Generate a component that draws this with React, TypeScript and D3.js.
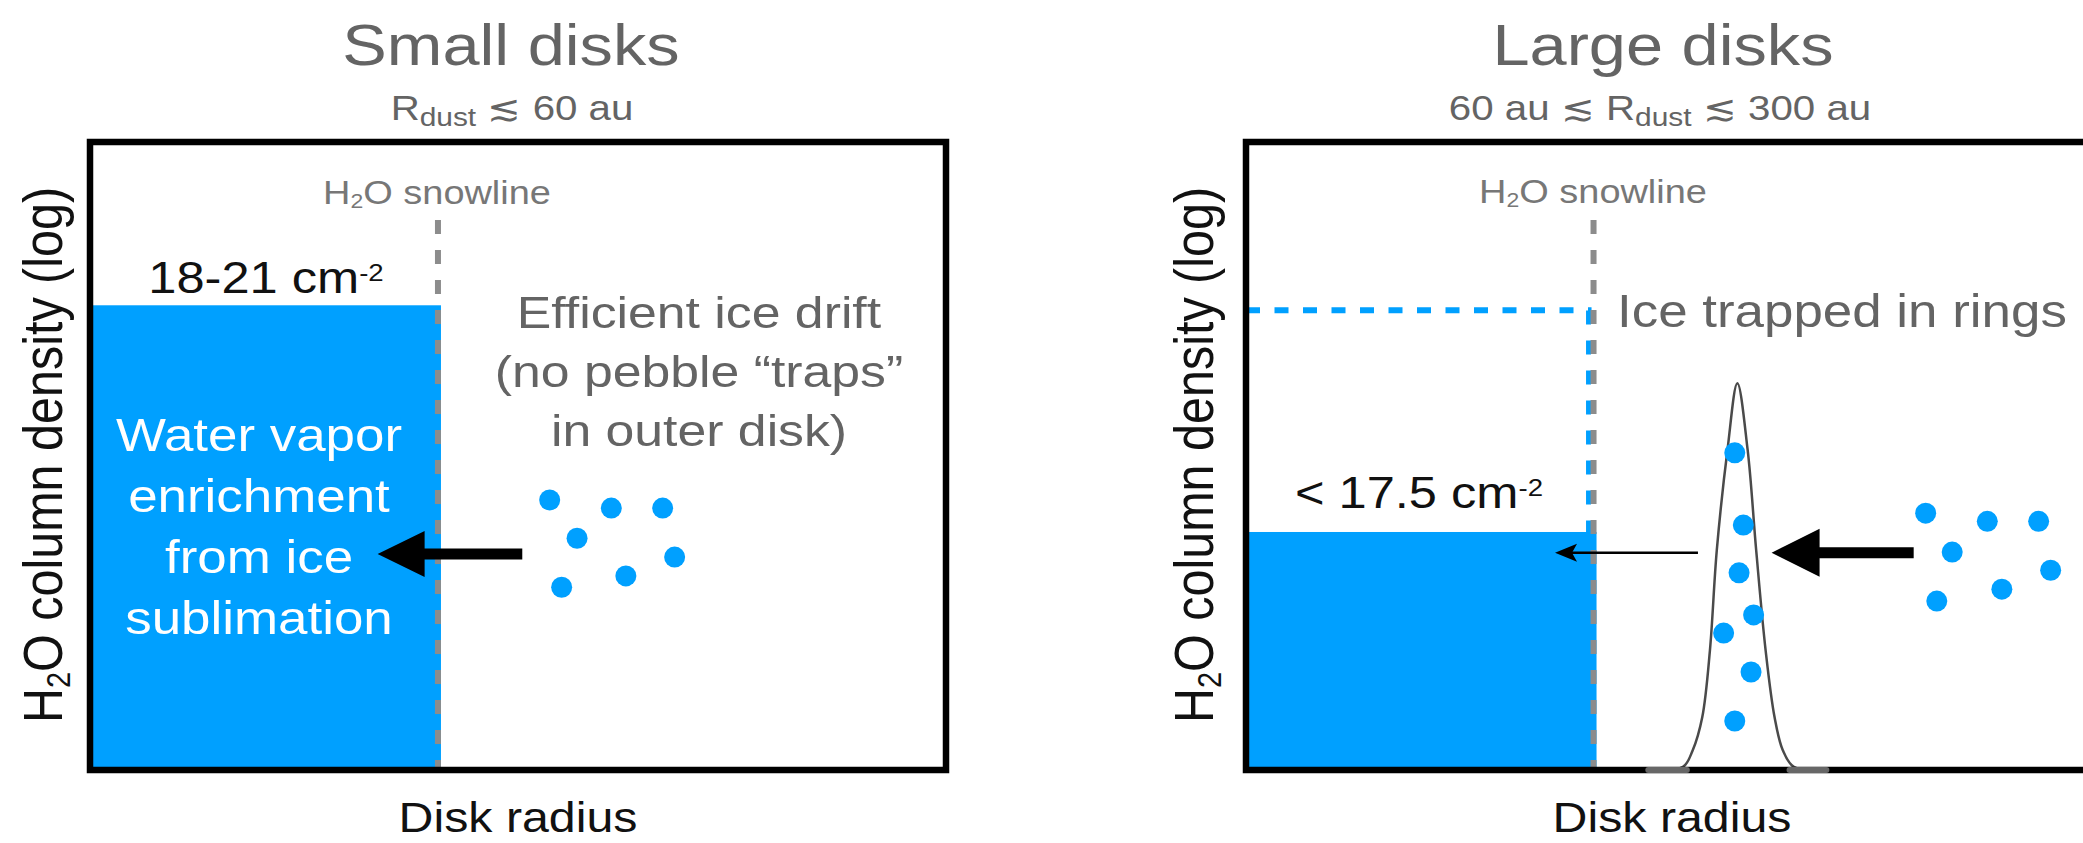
import React from 'react';
import * as d3 from 'd3';

const W = 2083;
const H = 843;
const SX = 1.15; // horizontal glyph stretch seen in the reference
const BLUE = '#00A0FF';
const DASH_GRAY = '#8C8C8C';
const TEXT_GRAY = '#646464';
const FONT = '"Liberation Sans", Arial, Helvetica, sans-serif';

// ---- layout of the two panels (pixel frame) ----
const panelLeft = [90, 1246];
const panelWidth = 856;
const panelTop = 142;
const panelBottom = 770;

// ---- data (x: disk radius, 0-100 across the box; y: log H2O column density, 0-100) ----
const panelTitles = ['Small disks', 'Large disks'];
const snowlineRadius = [40.65, 40.6];
const vaporLevel = [74.0, 37.9];
const ringTrapLevel = 73.2;

const driftDotsSmall: [number, number][] = [
  [53.7, 43.0], [60.9, 41.7], [66.9, 41.7], [56.9, 36.9], [68.3, 33.9], [62.6, 30.9], [55.1, 29.1],
];
const driftDotsLarge: [number, number][] = [
  [79.4, 40.9], [86.6, 39.6], [92.6, 39.6], [82.5, 34.7], [94.0, 31.8], [88.3, 28.8], [80.7, 26.9],
];
const ringDots: [number, number][] = [
  [57.1, 50.5], [58.1, 39.0], [57.6, 31.4], [59.3, 24.7], [55.8, 21.8], [59.0, 15.6], [57.1, 7.8],
];
const ringProfile: [number, number][] = [
  [47.2, 0], [51.05, 0.5], [52.2, 3.2], [53.3, 8.4], [54.2, 19.1], [55.0, 35.0], [56.25, 51.0],
  [57.4, 61.6], [58.6, 51.0], [59.6, 35.0], [60.7, 19.1], [61.75, 8.4], [62.7, 3.2], [64.0, 0.5], [67.6, 0],
];
// faint tails of the ring profile lying on the axis: [from, to]
const ringFeet: [number, number][] = [[47.0, 51.5], [63.5, 67.8]];
// arrows: [from radius, to radius, level]
const thickArrowSmall: [number, number, number] = [50.5, 33.6, 34.4];
const thinArrowLarge: [number, number, number] = [52.8, 36.1, 34.6];
const thickArrowLarge: [number, number, number] = [78.0, 61.4, 34.6];

const whiteLines = ['Water vapor', 'enrichment', 'from ice', 'sublimation'];
const grayLines = ['Efficient ice drift', '(no pebble \u201Ctraps\u201D', 'in outer disk)'];

function makeScales(i: number) {
  const x = d3.scaleLinear().domain([0, 100]).range([panelLeft[i], panelLeft[i] + panelWidth]);
  const y = d3.scaleLinear().domain([0, 100]).range([panelBottom, panelTop]);
  return { x, y };
}

function T(props: {
  x: number; y: number; size: number; fill?: string; anchor?: string; children: React.ReactNode;
}) {
  const { x, y, size, fill = '#111', anchor = 'middle', children } = props;
  return (
    <g transform={`translate(${x},${y}) scale(${SX},1)`}>
      <text textAnchor={anchor} fontSize={size} fill={fill} fontFamily={FONT}>
        {children}
      </text>
    </g>
  );
}

function thickArrow(x1: number, x2: number, y: number, shaft: number, headLen: number, headHalf: number) {
  const hb = x2 + headLen;
  return `M${x1},${y - shaft / 2} L${hb},${y - shaft / 2} L${hb},${y - headHalf} L${x2},${y} L${hb},${y + headHalf} L${hb},${y + shaft / 2} L${x1},${y + shaft / 2} Z`;
}

function YLabel({ x }: { x: number }) {
  return (
    <g transform={`translate(${x},455) scale(${SX},1) rotate(-90)`}>
      <text textAnchor="middle" fontSize={48.5} fill="#111" fontFamily={FONT}>
        H<tspan fontSize={29} dy={7}>2</tspan>
        <tspan dy={-7}>O column density (log)</tspan>
      </text>
    </g>
  );
}

function Snowline({ x }: { x: number }) {
  return (
    <line x1={x} x2={x} y1={220} y2={panelBottom} stroke={DASH_GRAY} strokeWidth={6} strokeDasharray="14 16" />
  );
}

export default function App() {
  const s0 = makeScales(0);
  const s1 = makeScales(1);
  const snow0 = s0.x(snowlineRadius[0]);
  const snow1 = s1.x(snowlineRadius[1]);
  const line = d3
    .line<[number, number]>()
    .x((d) => s1.x(d[0]))
    .y((d) => s1.y(d[1]))
    .curve(d3.curveCatmullRom.alpha(0.5));

  return (
    <svg
      width={W}
      height={H}
      viewBox={`0 0 ${W} ${H}`}
      style={{ position: 'absolute', left: 0, top: 0, display: 'block', background: '#fff' }}
    >
      <rect x={0} y={0} width={W} height={H} fill="#fff" />

      {/* ================= LEFT PANEL ================= */}
      <rect
        x={s0.x(0)}
        y={s0.y(vaporLevel[0])}
        width={snow0 + 3 - s0.x(0)}
        height={s0.y(0) - s0.y(vaporLevel[0])}
        fill={BLUE}
      />
      <Snowline x={snow0} />
      {driftDotsSmall.map((d, i) => (
        <circle key={i} cx={s0.x(d[0])} cy={s0.y(d[1])} r={10.5} fill={BLUE} />
      ))}
      <path
        d={thickArrow(s0.x(thickArrowSmall[0]), s0.x(thickArrowSmall[1]), s0.y(thickArrowSmall[2]), 11, 47, 23)}
        fill="#000"
      />
      <rect x={panelLeft[0]} y={panelTop} width={panelWidth} height={panelBottom - panelTop} fill="none" stroke="#000" strokeWidth={6.5} />

      <T x={511} y={65} size={58} fill={TEXT_GRAY}>{panelTitles[0]}</T>
      <T x={512} y={120} size={35} fill={TEXT_GRAY}>
        R<tspan fontSize={26} dy={6}>dust</tspan>
        <tspan dy={-6}> {'\u2272'} 60 au</tspan>
      </T>
      <T x={437} y={204} size={33} fill="#777">
        H<tspan fontSize={20} dy={4}>2</tspan>
        <tspan dy={-4}>O snowline</tspan>
      </T>
      <T x={266} y={293} size={44}>
        18-21 cm<tspan fontSize={24} dy={-12}>-2</tspan>
      </T>
      {whiteLines.map((t, i) => (
        <T key={t} x={259} y={451 + i * 61} size={46} fill="#fff">{t}</T>
      ))}
      {grayLines.map((t, i) => (
        <T key={t} x={699} y={328 + i * 59} size={45} fill={TEXT_GRAY}>{t}</T>
      ))}
      <T x={518} y={832} size={42}>Disk radius</T>
      <YLabel x={62} />

      {/* ================= RIGHT PANEL ================= */}
      <rect
        x={s1.x(0)}
        y={s1.y(vaporLevel[1])}
        width={snow1 + 3 - s1.x(0)}
        height={s1.y(0) - s1.y(vaporLevel[1])}
        fill={BLUE}
      />
      <line
        x1={s1.x(0)}
        x2={snow1 - 2}
        y1={s1.y(ringTrapLevel)}
        y2={s1.y(ringTrapLevel)}
        stroke={BLUE}
        strokeWidth={6}
        strokeDasharray="14 14.5"
      />
      <line
        x1={snow1 - 5}
        x2={snow1 - 5}
        y1={s1.y(ringTrapLevel)}
        y2={s1.y(vaporLevel[1])}
        stroke={BLUE}
        strokeWidth={5}
        strokeDasharray="14 16"
        strokeDashoffset={-(s1.y(ringTrapLevel) - 220) % 30}
      />
      <Snowline x={snow1} />
      <path d={line(ringProfile) || ''} fill="none" stroke="#4a4a4a" strokeWidth={2.5} />
      {ringDots.map((d, i) => (
        <circle key={'r' + i} cx={s1.x(d[0])} cy={s1.y(d[1])} r={10.5} fill={BLUE} />
      ))}
      {driftDotsLarge.map((d, i) => (
        <circle key={'l' + i} cx={s1.x(d[0])} cy={s1.y(d[1])} r={10.5} fill={BLUE} />
      ))}
      <line
        x1={s1.x(thinArrowLarge[0])}
        x2={s1.x(thinArrowLarge[1]) + 14}
        y1={s1.y(thinArrowLarge[2])}
        y2={s1.y(thinArrowLarge[2])}
        stroke="#000"
        strokeWidth={2.5}
      />
      <path
        d={(() => {
          const tx = s1.x(thinArrowLarge[1]);
          const ty = s1.y(thinArrowLarge[2]);
          return `M${tx},${ty} L${tx + 22},${ty - 9} L${tx + 17},${ty} L${tx + 22},${ty + 9} Z`;
        })()}
        fill="#000"
      />
      <path
        d={thickArrow(s1.x(thickArrowLarge[0]), s1.x(thickArrowLarge[1]), s1.y(thickArrowLarge[2]), 11, 48, 24)}
        fill="#000"
      />
      <rect x={panelLeft[1]} y={panelTop} width={panelWidth} height={panelBottom - panelTop} fill="none" stroke="#000" strokeWidth={6.5} />
      {ringFeet.map((f, i) => (
        <line
          key={'f' + i}
          x1={s1.x(f[0])}
          x2={s1.x(f[1])}
          y1={s1.y(0)}
          y2={s1.y(0)}
          stroke="#8a8a8a"
          strokeWidth={6}
          strokeOpacity={0.75}
          strokeLinecap="round"
        />
      ))}

      <T x={1663} y={65} size={58} fill={TEXT_GRAY}>{panelTitles[1]}</T>
      <T x={1660} y={120} size={35} fill={TEXT_GRAY}>
        60 au {'\u2272'} R<tspan fontSize={26} dy={6}>dust</tspan>
        <tspan dy={-6}> {'\u2272'} 300 au</tspan>
      </T>
      <T x={1593} y={203} size={33} fill="#777">
        H<tspan fontSize={20} dy={4}>2</tspan>
        <tspan dy={-4}>O snowline</tspan>
      </T>
      <T x={1617} y={327} size={46} fill={TEXT_GRAY} anchor="start">Ice trapped in rings</T>
      <T x={1419} y={508} size={44}>
        {'< 17.5 cm'}<tspan fontSize={24} dy={-12}>-2</tspan>
      </T>
      <T x={1672} y={832} size={42}>Disk radius</T>
      <YLabel x={1213} />
    </svg>
  );
}
